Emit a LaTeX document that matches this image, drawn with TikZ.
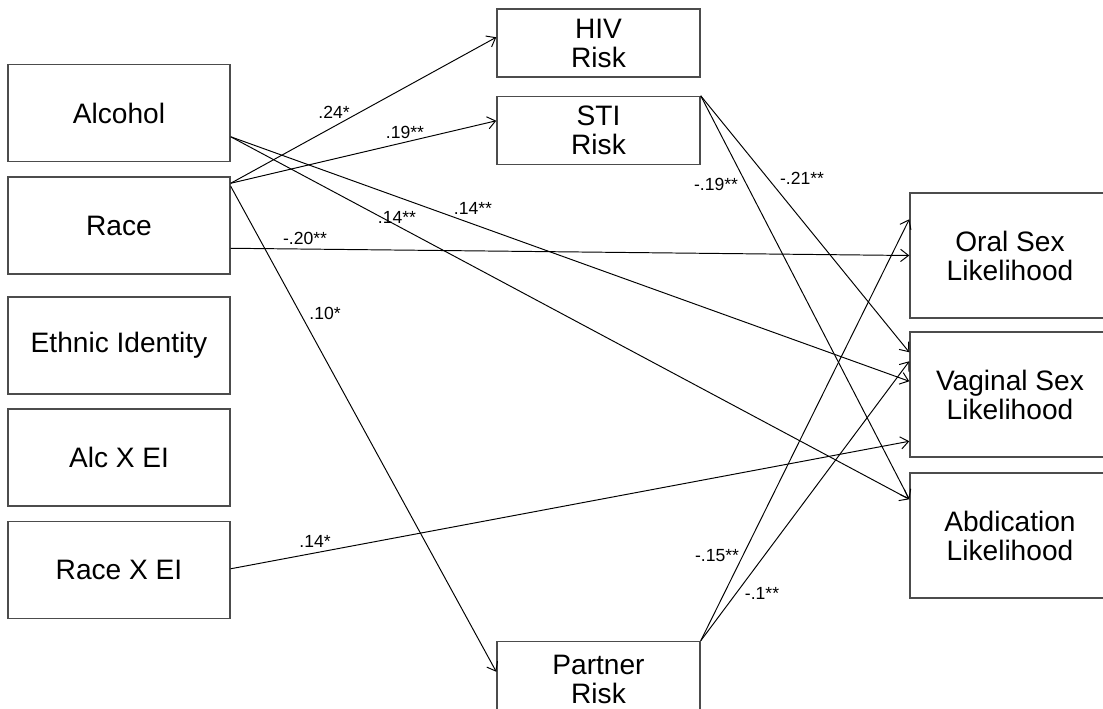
\documentclass[tikz,border=0pt]{standalone}
\usepackage{fontspec}
\setmainfont{Liberation Sans}
\usetikzlibrary{arrows.meta,calc}

\tikzset{
	box/.style={draw=black!70, line width=0.85pt, rectangle, align=center, inner sep=0pt,
		font=\fontsize{16}{16.5}\selectfont},
	leftbox/.style={box, minimum width=4.44cm, minimum height=1.94cm},
	midbox/.style={box, minimum width=4.06cm, minimum height=1.36cm},
	rightbox/.style={box, minimum width=4cm, minimum height=2.5cm},
	link/.style={-{Straight Barb[length=4.5pt,width=7pt]}, line width=0.55pt},
	coef/.style={font=\fontsize{10}{11}\selectfont, inner sep=0pt}
}

\begin{document}
\begin{tikzpicture}[x=0.02cm, y=-0.02cm]
	\fill[white] (0,0) rectangle (1103,708);
	\useasboundingbox (0,0) rectangle (1103,708);

	%% Praediktoren
	\node[leftbox] (alc) at (119,113) {Alcohol};
	\node[leftbox] (race) at (119,225.5) {Race};
	\node[leftbox] (ethn) at (119,345.5) {Ethnic Identity};
	\node[leftbox] (alcei) at (119,457.5) {Alc X EI};
	\node[leftbox] (raceei) at (119,570) {Race X EI};

	%% Mediatoren
	\node[midbox] (hiv) at (598.5,43) {HIV\\Risk};
	\node[midbox] (sti) at (598.5,130.5) {STI\\Risk};
	\node[midbox, minimum height=1.5cm] (partner) at (598.5,679) {Partner\\Risk};

	%% Outcomes
	\node[rightbox] (oral) at (1010,255.5) {Oral Sex\\Likelihood};
	\node[rightbox] (vag) at (1010,394.5) {Vaginal Sex\\Likelihood};
	\node[rightbox] (abd) at (1010,535.5) {Abdication\\Likelihood};
	%%%%%%%%%%%%%%%%

	%% Pfade
	\draw[link] ($(race.north east)+(0,7)$) -- ($(hiv.north west)+(0,29)$);
	\draw[link] ($(race.north east)+(0,7)$) -- ($(sti.north west)+(0,25)$);
	\draw[link] ($(race.north east)+(0,10)$) -- ($(partner.north west)+(0,31)$);
	\draw[link] ($(race.north east)+(0,72)$) -- (oral.west);
	\draw[link] ($(alc.north east)+(0,73)$) -- ($(vag.north west)+(0,50)$);
	\draw[link] ($(alc.north east)+(0,73)$) -- ($(abd.north west)+(0,27)$);
	\draw[link] ($(raceei.north east)+(0,48)$) -- ($(vag.north west)+(0,110)$);
	\draw[link] (sti.north east) -- ($(vag.north west)+(0,21)$);
	\draw[link] (sti.north east) -- ($(abd.north west)+(0,27)$);
	\draw[link] (partner.north east) -- ($(oral.north west)+(0,27)$);
	\draw[link] (partner.north east) -- ($(vag.north west)+(0,30)$);

	%% Koeffizienten
	\node[coef] (c1) at (334,112) {.24*};
	\node[coef] (c2) at (405,132) {.19**};
	\node[coef] (c3) at (397,217) {.14**};
	\node[coef] (c4) at (473,208) {.14**};
	\node[coef] (c5) at (305,238) {-.20**};
	\node[coef] (c6) at (325,313) {.10*};
	\node[coef] (c7) at (315,541) {.14*};
	\node[coef] (c8) at (802,178) {-.21**};
	\node[coef] (c9) at (716,184) {-.19**};
	\node[coef] (c10) at (717,556) {-.15**};
	\node[coef] (c11) at (762,593) {-.1**};
\end{tikzpicture}
\end{document}
